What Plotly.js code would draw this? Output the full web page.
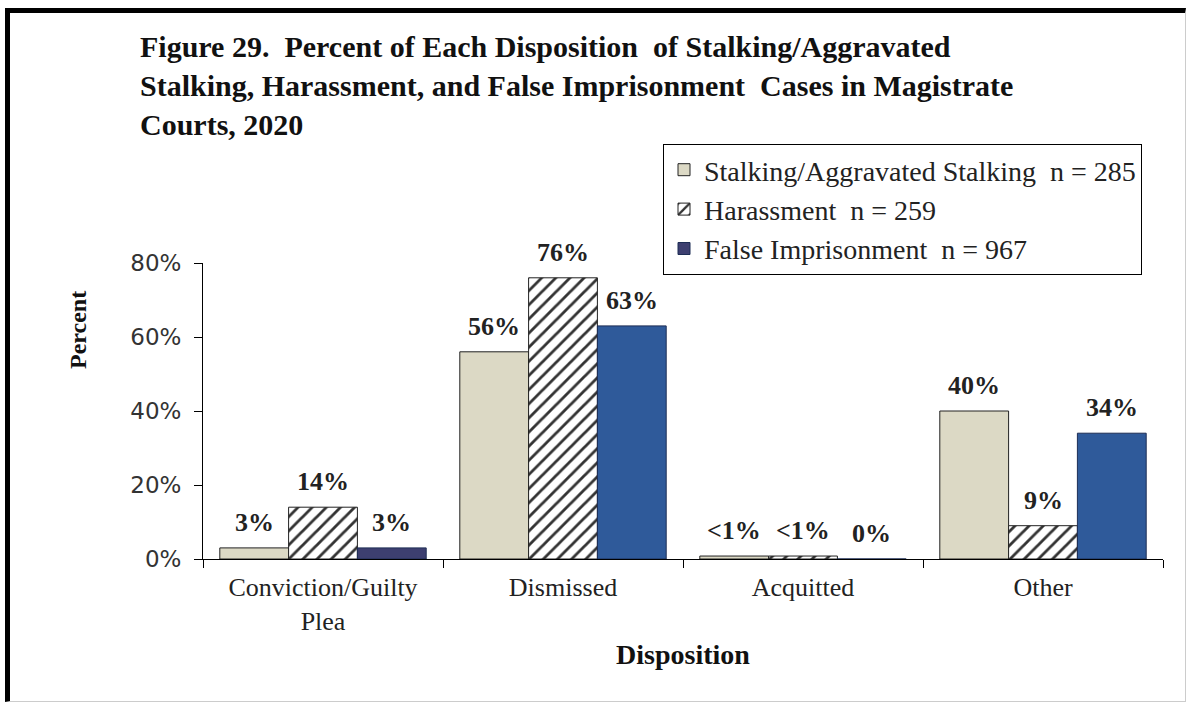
<!DOCTYPE html>
<html>
<head>
<meta charset="utf-8">
<script src="https://cdn.plot.ly/plotly-3.0.1.min.js"></script>
<style>
  html, body { margin: 0; padding: 0; background: #fff; }
  #wrap { position: relative; width: 1190px; height: 702px; overflow: hidden; }
  #frame { position: absolute; left: 5px; top: 8px; width: 1175px; height: 688px;
           border-top: 5px solid #000; border-left: 5px solid #000;
           border-right: 1px solid #ccc; border-bottom: 1px solid #ccc; pointer-events: none; z-index: 2; }
  #chart { position: absolute; left: 0; top: 0; width: 1190px; height: 702px; }
</style>
</head>
<body>
<div id="wrap">
  <div id="chart"></div>
  <div id="frame"></div>
</div>
<script>
const categories = ["Conviction/Guilty<br>Plea", "Dismissed", "Acquitted", "Other"];
const seriesNames = ["Stalking/Aggravated Stalking  n = 285", "Harassment  n = 259", "False Imprisonment  n = 967"];
const stalking = [3, 56, 0.8, 40];
const harassment = [14, 76, 0.8, 9];
const falseImprisonment = [3, 63, 0, 34];
const stalkingLabels = ["3%", "56%", "<1%", "40%"];
const harassmentLabels = ["14%", "76%", "<1%", "9%"];
const falseImprisonmentLabels = ["3%", "63%", "0%", "34%"];
const yTickVals = [0, 20, 40, 60, 80];
const yTickText = ["0%", "20%", "40%", "60%", "80%"];

const serif = "Liberation Serif, Times New Roman, serif";
const bargap = 0.14;
const barW = (1 - bargap) / 3;

const traces = [
  {
    type: "bar", name: seriesNames[0], x: categories, y: stalking,
    marker: { color: "#dcd9c5", line: { color: "#222", width: 1 } },
    hoverinfo: "none"
  },
  {
    type: "bar", name: seriesNames[1], x: categories, y: harassment,
    marker: { color: "#ffffff", line: { color: "#222", width: 1 },
              pattern: { shape: "/", fgcolor: "#333", bgcolor: "#ffffff", size: 10, solidity: 0.28 } },
    hoverinfo: "none"
  },
  {
    type: "bar", name: seriesNames[2], x: categories, y: falseImprisonment,
    marker: { color: ["#3d3f70", "#2f5a9a", "#2f5a9a", "#2f5a9a"], line: { color: "#1d2d55", width: 1 } },
    hoverinfo: "none"
  }
];

const allVals = [stalking, harassment, falseImprisonment];
const allLabels = [stalkingLabels, harassmentLabels, falseImprisonmentLabels];
const annotations = [];
allVals.forEach((vals, s) => {
  vals.forEach((v, i) => {
    annotations.push({
      x: i + (s - 1) * barW, y: v, xref: "x", yref: "y",
      text: allLabels[s][i], showarrow: false, yanchor: "bottom", yshift: 9,
      font: { family: serif, size: 26, color: "#222", weight: "bold" }
    });
  });
});
annotations.push({
  text: "<b>Percent</b>", textangle: -90, showarrow: false,
  xref: "paper", yref: "paper", x: (78 - 203) / 960, y: (559 - 330) / 296,
  xanchor: "center", yanchor: "middle",
  font: { family: serif, size: 24, color: "#111" }
});

const layout = {
  width: 1190, height: 702,
  margin: { l: 203, r: 27, t: 263, b: 143 },
  paper_bgcolor: "#ffffff", plot_bgcolor: "#ffffff",
  barmode: "group", bargap: bargap, bargroupgap: 0,
  showlegend: true,
  title: {
    text: "<b>Figure 29.  Percent of Each Disposition  of Stalking/Aggravated<br>Stalking, Harassment, and False Imprisonment  Cases in Magistrate<br>Courts, 2020</b>",
    font: { family: serif, size: 30, color: "#111" },
    x: 140 / 1190, xanchor: "left", xref: "container",
    y: 1 - 57 / 702, yanchor: "top", yref: "container"
  },
  legend: {
    x: (663 - 203) / 960, y: (559 - 144) / 296, xanchor: "left", yanchor: "top",
    bordercolor: "#000", borderwidth: 1, bgcolor: "#ffffff",
    font: { family: serif, size: 28, color: "#222" },
    traceorder: "normal", itemwidth: 30
  },
  xaxis: {
    type: "category",
    showline: true, linecolor: "#000", linewidth: 1,
    ticks: "outside", tickson: "boundaries", ticklen: 8, tickcolor: "#000",
    ticklabelstandoff: 5,
    tickfont: { family: serif, size: 26, color: "#222" },
    title: { text: "<b>Disposition</b>", font: { family: serif, size: 28, color: "#111" }, standoff: 9 },
    showgrid: false, zeroline: false
  },
  yaxis: {
    range: [0, 80], tickvals: yTickVals, ticktext: yTickText,
    showline: true, linecolor: "#000", linewidth: 1,
    ticks: "outside", ticklen: 8, tickcolor: "#000",
    ticklabelstandoff: 8,
    tickfont: { family: "DejaVu Sans, Verdana, sans-serif", size: 23, color: "#333" },
    showgrid: false, zeroline: false
  },
  annotations: annotations
};

Plotly.newPlot("chart", traces, layout, { displayModeBar: false, staticPlot: true });
</script>
</body>
</html>
